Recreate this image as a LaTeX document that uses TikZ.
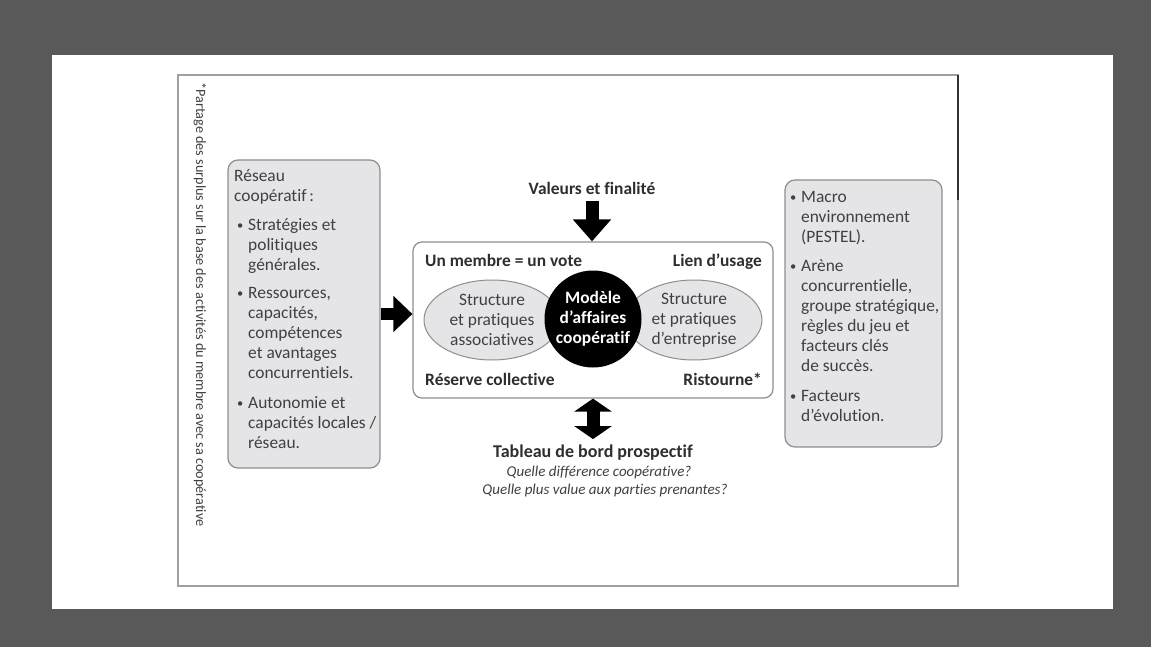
\documentclass[tikz,border=0pt]{standalone}
\usepackage{fontspec}
\setmainfont{Carlito}[Ligatures=NoCommon]
\usetikzlibrary{arrows.meta, shapes.geometric}
\definecolor{fond}{HTML}{595959}
\definecolor{cadregris}{HTML}{A0A0A0}
\definecolor{boitegris}{HTML}{E5E5E8}
\definecolor{traitgris}{HTML}{8E8E8E}
\definecolor{textegris}{HTML}{404040}
\definecolor{titregris}{HTML}{2E2E2E}
\newcommand{\corps}{\fontsize{17.4}{20}\selectfont}
\newcommand{\puce}{\makebox[11pt][l]{\raisebox{0.5pt}{\fontsize{12.5}{12}\selectfont\textbullet}}}
\newcommand{\suite}{\hspace*{11pt}}
\tikzset{
  sidebox/.style={draw=traitgris, line width=1.2pt, fill=boitegris, rounded corners=10pt},
  boxtext/.style={anchor=north west, inner sep=0pt, align=left, text=textegris, font=\corps},
  cornerlabel/.style={inner sep=0pt, text=titregris, font=\corps\bfseries},
  oval/.style={ellipse, draw=traitgris, line width=1pt, fill=boitegris, minimum width=136pt,
    minimum height=80pt, inner sep=0pt, align=center, text=textegris, font=\corps},
  question/.style={inner sep=0pt, text=textegris, font=\fontsize{15}{18}\selectfont\itshape},
  bigarrow/.style={draw=black, line width=13pt}
}
\begin{document}
\begin{tikzpicture}[x=1pt, y=-1pt]
% fond et cadre
\fill[fond] (0,0) rectangle (1151,647);
\fill[white] (52,55) rectangle (1113,609);
\draw[cadregris, line width=1.5pt] (178,75) rectangle (958,586);
\draw[black!80, line width=1.5pt] (958,75) -- (958,200);

% note verticale
\node[rotate=-90, anchor=west, inner sep=0pt, text=textegris, font=\fontsize{14.2}{16}\selectfont]
  (note) at (200,82) {*Partage des surplus sur la base des activités du membre avec sa coopérative};

% boite de gauche
\node[sidebox, minimum width=152pt, minimum height=308pt] (reseau) at (304,314) {};
\node[boxtext] (reseautxt) at (234,169) {Réseau\\coopératif\,:\\[9pt]
  \hspace*{3pt}\puce Stratégies et\\ \hspace*{3pt}\suite politiques\\ \hspace*{3pt}\suite générales.\\[8pt]
  \hspace*{3pt}\puce Ressources,\\ \hspace*{3pt}\suite capacités,\\ \hspace*{3pt}\suite compétences\\
  \hspace*{3pt}\suite et avantages\\ \hspace*{3pt}\suite concurrentiels.\\[10pt]
  \hspace*{3pt}\puce Autonomie et\\ \hspace*{3pt}\suite capacités locales /\\ \hspace*{3pt}\suite réseau.};

% boite centrale
\node[draw=traitgris, line width=1.2pt, fill=white, rounded corners=9pt,
  minimum width=360pt, minimum height=156pt] (cadre) at (593,320) {};
\node[oval] (asso) at (492,320) {Structure\\et pratiques\\associatives};
\node[oval] (entreprise) at (694,320) {Structure\\et pratiques\\d'entreprise};
\node[circle, fill=black, minimum size=97pt, inner sep=0pt, align=center, text=white,
  font=\corps\bfseries] (modele) at (593,319) {Modèle\\d'affaires\\coopératif};
\node[cornerlabel, anchor=base west] (vote) at (425,266) {Un membre = un vote};
\node[cornerlabel, anchor=base east] (usage) at (762,266) {Lien d'usage};
\node[cornerlabel, anchor=base west] (reserve) at (425,385) {Réserve collective};
\node[cornerlabel, anchor=base east] (ristourne) at (762,385) {Ristourne*};

% en haut et en bas
\node[cornerlabel, inner sep=3pt] (valeurs) at (592,188) {Valeurs et finalité};
\draw[bigarrow, -{Triangle[length=22pt,width=37pt]}, shorten <=4pt]
  (valeurs.south) -- (valeurs.south |- cadre.north);
\node[cornerlabel, inner sep=3pt, font=\fontsize{18}{20}\selectfont\bfseries] (tableau) at (593,453)
  {Tableau de bord prospectif};
\draw[bigarrow, {Triangle[length=13pt,width=37pt]}-{Triangle[length=13pt,width=37pt]}, shorten >=3pt]
  (cadre.south) -- (cadre.south |- tableau.north);
\node[question] (question1) at (599,472) {Quelle différence coopérative?};
\node[question] (question2) at (605,490) {Quelle plus value aux parties prenantes?};

% fleche de gauche
\draw[bigarrow, line width=12pt, -{Triangle[length=19pt,width=35pt]}]
  (reseau.east) -- (reseau.east -| cadre.west);

% boite de droite
\node[sidebox, minimum width=157pt, minimum height=267pt] (environnement) at (863.5,313.5) {};
\node[boxtext] (environnementtxt) at (790,191) {\puce Macro\\ \suite environnement\\ \suite (PESTEL).\\[9pt]
  \puce Arène\\ \suite concurrentielle,\\ \suite groupe stratégique,\\ \suite règles du jeu et\\
  \suite facteurs clés\\ \suite de succès.\\[10pt]
  \puce Facteurs\\ \suite d'évolution.};
\end{tikzpicture}
\end{document}
